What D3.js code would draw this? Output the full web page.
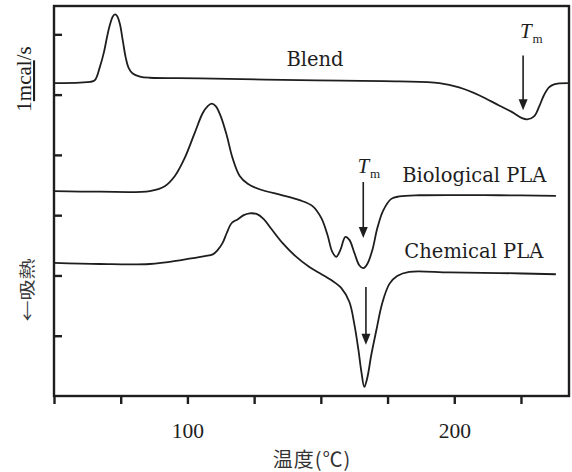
<!DOCTYPE html>
<html>
<head>
<meta charset="utf-8">
<script src="https://cdn.jsdelivr.net/npm/d3@7"></script>
<style>
  body { margin: 0; background: #fff; }
  svg { display: block; }
</style>
</head>
<body>
<svg id="dsc" width="572" height="472"></svg>
<script>
// DSC traces, temperature (°C) vs heat flow (arbitrary units, 1 tick = 1)
const blend = [
  [50, 5.19], [59.7, 5.20], [63.5, 5.21], [65.3, 5.24], [67.2, 5.46], [68.7, 5.70],
  [69.8, 5.94], [70.9, 6.15], [72.1, 6.30], [72.9, 6.33], [73.7, 6.30], [74.7, 6.17],
  [75.8, 5.89], [76.9, 5.61], [78.0, 5.44], [79.5, 5.35], [82.2, 5.30], [85.9, 5.28],
  [104.6, 5.27], [142.0, 5.24], [179.4, 5.22], [194.4, 5.19], [201.8, 5.12], [209.3, 4.99],
  [216.8, 4.82], [221.7, 4.71], [225.4, 4.61], [227.3, 4.59], [229.9, 4.64], [231.8, 4.80],
  [233.6, 4.99], [235.5, 5.12], [237.4, 5.17], [242.6, 5.19]
];
const bioPLA = [
  [50, 3.40], [67.2, 3.39], [85.9, 3.40], [91.5, 3.48], [95.3, 3.65], [99.0, 3.95],
  [102.7, 4.36], [105.7, 4.69], [107.6, 4.81], [109.1, 4.85], [110.6, 4.81], [112.5, 4.64],
  [114.7, 4.33], [116.9, 3.95], [119.6, 3.65], [122.6, 3.52], [127.0, 3.43], [135.6, 3.33],
  [142.0, 3.25], [146.9, 3.15], [150.2, 2.95], [152.5, 2.67], [154.3, 2.39], [155.8, 2.31],
  [157.3, 2.42], [159.2, 2.64], [160.7, 2.59], [162.6, 2.37], [164.4, 2.17], [165.9, 2.12],
  [167.4, 2.19], [169.3, 2.42], [171.2, 2.79], [173.4, 3.08], [176.4, 3.27], [179.4, 3.31],
  [186.9, 3.33], [216.8, 3.33], [238.1, 3.32]
];
const chemPLA = [
  [50, 2.21], [67.2, 2.19], [85.9, 2.19], [98.2, 2.26], [106.5, 2.32], [109.5, 2.35],
  [111.3, 2.42], [113.2, 2.54], [114.7, 2.70], [116.6, 2.87], [118.8, 2.93], [121.1, 3.00],
  [123.3, 3.03], [125.9, 3.02], [128.5, 2.94], [131.5, 2.77], [135.6, 2.54], [140.5, 2.32],
  [145.7, 2.14], [149.5, 2.04], [154.0, 1.92], [157.7, 1.79], [160.7, 1.56], [162.6, 1.18],
  [164.1, 0.76], [165.2, 0.40], [166.3, 0.15], [167.4, 0.30], [168.9, 0.68], [170.8, 1.09],
  [173.0, 1.54], [175.7, 1.86], [178.6, 1.99], [183.1, 2.06], [198.1, 2.05], [216.8, 2.04],
  [238.1, 2.02]
];

const xTicks = [50, 75, 100, 125, 150, 175, 200, 225];
const xTickLabels = [100, 200];
const yTicks = [1, 2, 3, 4, 5, 6];

const labelNames = ["Blend", "Biological PLA", "Chemical PLA"];
const labelT = [137.1, 180.5, 181.3];
const labelV = [5.48, 3.55, 2.29];

// Tm arrows: temperature, start and tip (heat flow units)
const arrowT = [225.8, 165.9, 166.9];
const arrowFrom = [5.65, 3.55, 1.81];
const arrowTo = [4.74, 2.62, 0.85];
const tmT = [224.6, 163.7];
const tmV = [5.94, 3.70];

const svg = d3.select("svg#dsc");
const x = d3.scaleLinear().domain([50, 243]).range([54, 569]);
const y = d3.scaleLinear().domain([0, 6.47]).range([396, 6]);

const ink = "#1e1e1e";

// frame
svg.append("rect")
    .attr("x", x(50)).attr("y", y(6.47))
    .attr("width", x(243) - x(50)).attr("height", y(0) - y(6.47))
    .attr("fill", "none").attr("stroke", ink).attr("stroke-width", 2.4);

// bottom axis
const xAxis = svg.append("g")
    .attr("transform", "translate(0," + y(0) + ")")
    .call(d3.axisBottom(x)
        .tickValues(xTicks)
        .tickSize(8)
        .tickPadding(19)
        .tickFormat(d => xTickLabels.includes(d) ? d : ""));
xAxis.select(".domain").remove();
xAxis.selectAll("line").attr("stroke", ink).attr("stroke-width", 2.4);
xAxis.selectAll("text")
    .attr("fill", ink)
    .style("font-family", "'Liberation Serif', serif")
    .style("font-size", "21.5px");

// left axis, ticks pointing inward
const yAxis = svg.append("g")
    .attr("transform", "translate(" + x(50) + ",0)")
    .call(d3.axisLeft(y).tickValues(yTicks).tickSize(-8).tickFormat(""));
yAxis.select(".domain").remove();
yAxis.selectAll("line").attr("stroke", ink).attr("stroke-width", 2.4);

// curves
const line = d3.line()
    .x(d => x(d[0]))
    .y(d => y(d[1]))
    .curve(d3.curveCatmullRom.alpha(0.5));

[blend, bioPLA, chemPLA].forEach(function (s) {
  svg.append("path")
      .datum(s)
      .attr("d", line)
      .attr("fill", "none")
      .attr("stroke", ink)
      .attr("stroke-width", 1.8);
});

// curve labels
svg.selectAll("text.lbl")
    .data(labelNames)
    .enter().append("text")
      .attr("class", "lbl")
      .attr("x", (d, i) => x(labelT[i]))
      .attr("y", (d, i) => y(labelV[i]))
      .attr("fill", ink)
      .style("font-family", "'DejaVu Serif', serif")
      .style("font-size", "19.5px")
      .text(d => d);

// arrows
arrowT.forEach(function (t, i) {
  const ax = x(t), y0 = y(arrowFrom[i]), y1 = y(arrowTo[i]);
  svg.append("line")
      .attr("x1", ax).attr("x2", ax)
      .attr("y1", y0).attr("y2", y1 - 8)
      .attr("stroke", ink).attr("stroke-width", 1.6);
  svg.append("path")
      .attr("d", "M" + (ax - 4.5) + "," + (y1 - 11) + "L" + (ax + 4.5) + "," + (y1 - 11) + "L" + ax + "," + y1 + "Z")
      .attr("fill", ink);
});

// Tm labels
tmT.forEach(function (t, i) {
  const txt = svg.append("text")
      .attr("x", x(t))
      .attr("y", y(tmV[i]))
      .attr("fill", ink)
      .style("font-family", "'Liberation Serif', serif");
  txt.append("tspan")
      .style("font-style", "italic")
      .style("font-size", "21px")
      .text("T");
  txt.append("tspan")
      .attr("dx", 1)
      .attr("dy", 5)
      .style("font-size", "13px")
      .text("m");
});

// y axis titles
svg.append("text")
    .attr("transform", "translate(31,79) rotate(-90)")
    .attr("text-anchor", "middle")
    .attr("fill", ink)
    .style("font-family", "'Liberation Serif', serif")
    .style("font-size", "21px")
    .call(t => {
      t.append("tspan").text("1");
      t.append("tspan").style("text-decoration", "underline").text("mcal");
      t.append("tspan").text("/s");
    });

svg.append("text")
    .attr("transform", "translate(33,290) rotate(-90) scale(1,0.75)")
    .attr("text-anchor", "middle")
    .attr("fill", "#3a3a3a")
    .style("font-family", "'Noto Sans CJK JP', sans-serif")
    .style("font-size", "21px")
    .text("←吸熱");

// x axis title
svg.append("text")
    .attr("x", 312)
    .attr("y", 467)
    .attr("text-anchor", "middle")
    .attr("fill", "#333")
    .style("font-family", "'Noto Sans CJK JP', sans-serif")
    .style("font-size", "20px")
    .style("letter-spacing", "1px")
    .text("温度(℃)");
</script>
</body>
</html>
